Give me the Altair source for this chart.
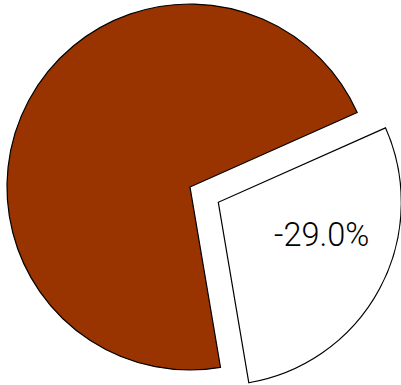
import math
import altair as alt
import pandas as pd

categories = ["Change", "Rest"]
values = [29.0, 71.0]
labels = ["-29.0%", ""]
exploded = [1, 0]
colors = ["#ffffff", "#993300"]

df = pd.DataFrame({
    "category": categories,
    "value": values,
    "label": labels,
    "exploded": exploded,
    "order": [0, 1],
})

start = math.radians(66.0)
theta_scale = alt.Scale(range=[start, start + 2 * math.pi])

base = alt.Chart(df).encode(
    theta=alt.Theta("value:Q", stack=True, scale=theta_scale),
    order=alt.Order("order:Q"),
)

fill = alt.Color("category:N", scale=alt.Scale(domain=categories, range=colors), legend=None)

main = base.mark_arc(radius=183, stroke="black", strokeWidth=1.2).encode(
    fill=fill,
    opacity=alt.condition("datum.exploded == 0", alt.value(1), alt.value(0)),
)

out = base.mark_arc(radius=183, stroke="black", strokeWidth=1.2, xOffset=28.3, yOffset=15.3).encode(
    fill=fill,
    opacity=alt.condition("datum.exploded == 1", alt.value(1), alt.value(0)),
)

text = base.mark_text(
    radius=108, dx=36.5, dy=8.0, font="Roboto", fontWeight=300, fontSize=32.5,
    color="black", align="center", baseline="alphabetic",
).encode(text="label:N")

chart = alt.layer(main, out, text).properties(
    width=380, height=374,
    autosize=alt.AutoSizeParams(type="none"),
    padding={"left": 0, "top": 0, "right": 21, "bottom": 11},
).configure_view(stroke=None)

chart.save("out.html", embed_options={"renderer": "svg", "actions": False})
